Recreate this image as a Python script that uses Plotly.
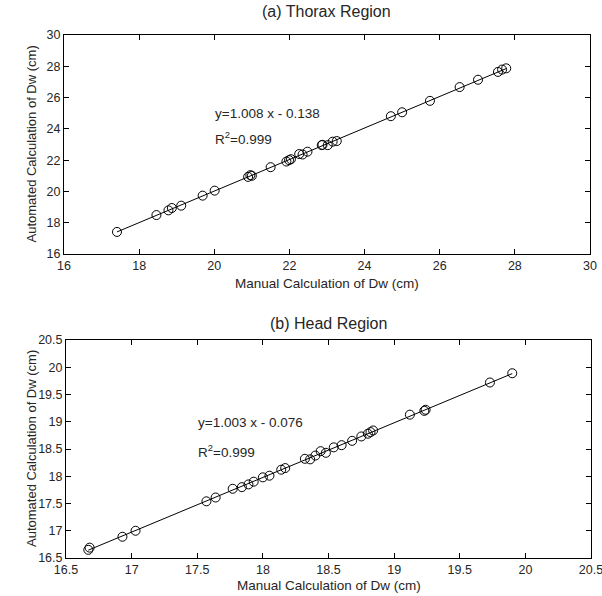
import plotly.graph_objects as go

# (a) Thorax region
thorax_manual = [17.41, 18.46, 18.78, 18.87, 19.12, 19.69, 20.01, 20.90, 20.96, 21.00,
                 21.50, 21.92, 21.99, 22.04, 22.26, 22.35, 22.48, 22.86, 22.88, 23.02,
                 23.15, 23.26, 24.70, 25.00, 25.74, 26.53, 27.02, 27.55, 27.66, 27.77]
thorax_auto = [17.41, 18.49, 18.79, 18.94, 19.09, 19.73, 20.05, 20.93, 21.04, 21.00,
               21.55, 21.91, 22.00, 22.06, 22.39, 22.36, 22.54, 22.96, 22.98, 22.96,
               23.18, 23.22, 24.81, 25.06, 25.79, 26.67, 27.14, 27.64, 27.79, 27.87]
thorax_fit = (1.008, -0.138)

# (b) Head region
head_manual = [16.67, 16.68, 16.93, 17.03, 17.57, 17.64, 17.77, 17.84, 17.89, 17.93,
               18.00, 18.05, 18.14, 18.17, 18.32, 18.36, 18.40, 18.44, 18.48, 18.54,
               18.60, 18.68, 18.75, 18.80, 18.82, 18.84, 19.12, 19.23, 19.24, 19.73, 19.90]
head_auto = [16.65, 16.69, 16.89, 17.00, 17.54, 17.61, 17.77, 17.80, 17.85, 17.90,
             17.98, 18.01, 18.12, 18.15, 18.32, 18.31, 18.38, 18.46, 18.43, 18.53,
             18.57, 18.65, 18.73, 18.78, 18.81, 18.84, 19.13, 19.20, 19.22, 19.72, 19.89]
head_fit = (1.003, -0.076)

thorax_ticks = [16, 18, 20, 22, 24, 26, 28, 30]
head_ticks = [16.5, 17, 17.5, 18, 18.5, 19, 19.5, 20, 20.5]

FONT = "Liberation Sans, Arial, sans-serif"
TXT = "#262626"
W, H = 602, 596
OFF = 0  # body margin removed via post_script

fig = go.Figure()


def add_panel(xs, ys, fit, xa, ya):
    a, b = fit
    lo, hi = min(xs), max(xs)
    fig.add_trace(go.Scatter(x=[lo, hi], y=[a * lo + b, a * hi + b], mode="lines",
                             line=dict(color="black", width=1), xaxis=xa, yaxis=ya,
                             showlegend=False, hoverinfo="skip"))
    fig.add_trace(go.Scatter(x=xs, y=ys, mode="markers",
                             marker=dict(symbol="circle-open", size=9, color="black",
                                         line=dict(width=1, color="black")),
                             xaxis=xa, yaxis=ya, showlegend=False))


add_panel(thorax_manual, thorax_auto, thorax_fit, "x", "y")
add_panel(head_manual, head_auto, head_fit, "x2", "y2")

axis_common = dict(showgrid=False, zeroline=False, showline=True, linecolor="black",
                   linewidth=1, mirror="ticks", ticks="inside", ticklen=5,
                   tickcolor="black", automargin=False, ticklabeloverflow="allow",
                   tickfont=dict(family=FONT, size=12.5, color=TXT))

# screen-pixel boxes of the two panels (left, right, top, bottom)
top_box = (64, 590, 35, 254)
bot_box = (66, 591, 340, 558)


def px(x):
    return (x - OFF) / W


def py(y):
    return 1 - (y - OFF) / H


def xdom(b):
    return [px(b[0]), px(b[1])]


def ydom(b):
    return [py(b[3]), py(b[2])]


def ann(text, x, y, size, **kw):
    return dict(text=text, xref="paper", yref="paper", x=px(x), y=py(y),
                xanchor="center", yanchor="middle",
                showarrow=False, font=dict(family=FONT, size=size, color=TXT), **kw)


def dann(text, xr, yr, x, y):
    return dict(text=text, xref=xr, yref=yr, x=x, y=y, xanchor="left", yanchor="middle",
                showarrow=False, font=dict(family=FONT, size=13.5, color=TXT))


fig.update_layout(
    width=W, height=H,
    margin=dict(l=0, r=0, t=0, b=0),
    paper_bgcolor="white", plot_bgcolor="white",
    xaxis=dict(domain=xdom(top_box), anchor="y", range=[16, 30], tickvals=thorax_ticks,
               **axis_common),
    yaxis=dict(domain=ydom(top_box), anchor="x", range=[16, 30], tickvals=thorax_ticks,
               **axis_common),
    xaxis2=dict(domain=xdom(bot_box), anchor="y2", range=[16.5, 20.5], tickvals=head_ticks,
                ticktext=[f"{v:g}" for v in head_ticks], **axis_common),
    yaxis2=dict(domain=ydom(bot_box), anchor="x2", range=[16.5, 20.5], tickvals=head_ticks,
                ticktext=[f"{v:g}" for v in head_ticks], **axis_common),
    annotations=[
        ann("(a) Thorax Region", (top_box[0] + top_box[1]) / 2, 11, 16),
        ann("(b) Head Region", (bot_box[0] + bot_box[1]) / 2, 323, 16),
        ann("Manual Calculation of Dw (cm)", (top_box[0] + top_box[1]) / 2, 283, 13.5),
        ann("Manual Calculation of Dw (cm)", (bot_box[0] + bot_box[1]) / 2, 585, 13.5),
        ann("Automated Calculation of Dw (cm)", 31, (top_box[2] + top_box[3]) / 2, 13, textangle=-90),
        ann("Automated Calculation of Dw (cm)", 31, (bot_box[2] + bot_box[3]) / 2, 13, textangle=-90),
        dann(f"y={thorax_fit[0]:.3f} x - {abs(thorax_fit[1]):.3f}", "x", "y", 19.96, 24.96),
        dann("R<sup>2</sup>=0.999", "x", "y", 19.96, 23.4),
        dann(f"y={head_fit[0]:.3f} x - {abs(head_fit[1]):.3f}", "x2", "y2", 17.49, 18.99),
        dann("R<sup>2</sup>=0.999", "x2", "y2", 17.49, 18.47),
    ],
)

fig.write_html("out.html", config={"displayModeBar": False},
               post_script="document.body.style.margin='0';document.body.style.overflow='hidden';")
